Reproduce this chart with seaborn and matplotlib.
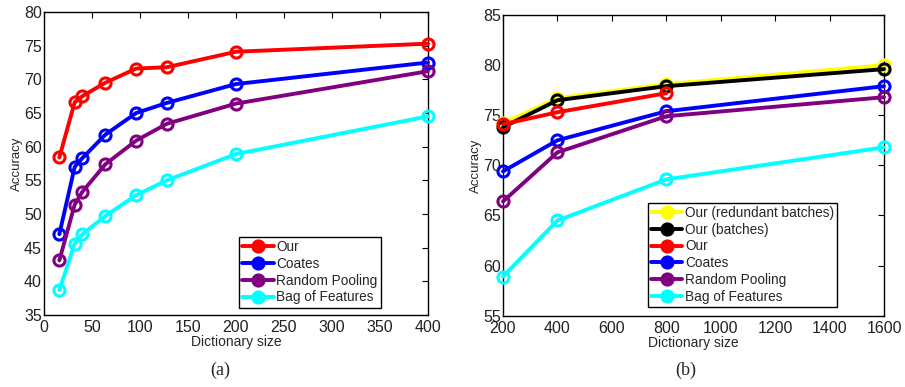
import matplotlib
matplotlib.use("Agg")
import matplotlib.pyplot as plt
import seaborn as sns

# (a) dictionary sizes and accuracies
sizes_a = [16, 32, 40, 64, 96, 128, 200, 400]
our_a = [58.4, 66.6, 67.5, 69.5, 71.6, 71.8, 74.1, 75.3]
coates_a = [47.0, 57.0, 58.3, 61.8, 65.0, 66.5, 69.3, 72.5]
random_a = [43.1, 51.4, 53.3, 57.4, 60.9, 63.4, 66.4, 71.2]
bof_a = [38.7, 45.6, 47.0, 49.7, 52.8, 55.0, 58.9, 64.5]

# (b)
sizes_b = [200, 400, 800, 1600]
our_red_b = [74.2, 76.7, 78.1, 80.0]
our_batch_b = [73.8, 76.5, 77.9, 79.6]
our_b = [74.1, 75.3, 77.2]
coates_b = [69.4, 72.5, 75.4, 77.9]
random_b = [66.4, 71.3, 74.9, 76.8]
bof_b = [58.9, 64.5, 68.6, 71.8]

PURPLE = (0.5, 0.0, 0.5)

sns.set_style("white")
plt.rcParams['font.family'] = ['Liberation Sans', 'DejaVu Sans']

fig = plt.figure(figsize=(9.05, 3.87), dpi=100)
ax1 = fig.add_axes([0.0486, 0.186, 0.4243, 0.783])
ax2 = fig.add_axes([0.5558, 0.1842, 0.421, 0.777])


def draw(ax, x, y, color, label):
    sns.lineplot(x=x[:len(y)], y=y, ax=ax, color=color, label=label, sort=False,
                 marker='o', markersize=8, markerfacecolor='none',
                 markeredgecolor=color, markeredgewidth=2.2, linewidth=2.8,
                 clip_on=False, zorder=3)


draw(ax1, sizes_a, our_a, 'red', 'Our')
draw(ax1, sizes_a, coates_a, 'blue', 'Coates')
draw(ax1, sizes_a, random_a, PURPLE, 'Random Pooling')
draw(ax1, sizes_a, bof_a, 'cyan', 'Bag of Features')

draw(ax2, sizes_b, our_red_b, 'yellow', 'Our (redundant batches)')
draw(ax2, sizes_b, our_batch_b, 'black', 'Our (batches)')
draw(ax2, sizes_b, our_b, 'red', 'Our')
draw(ax2, sizes_b, coates_b, 'blue', 'Coates')
draw(ax2, sizes_b, random_b, PURPLE, 'Random Pooling')
draw(ax2, sizes_b, bof_b, 'cyan', 'Bag of Features')

ax1.set_xlim(0, 400)
ax1.set_ylim(35, 80)
ax1.set_xticks(range(0, 401, 50))
ax1.set_yticks(range(35, 81, 5))
ax2.set_xlim(200, 1600)
ax2.set_ylim(55, 85)
ax2.set_xticks(range(200, 1601, 200))
ax2.set_yticks(range(55, 86, 5))

for ax in (ax1, ax2):
    ax.set_xlabel('Dictionary size', fontsize=10, labelpad=0)
    ax.set_ylabel('Accuracy', fontsize=9.5, labelpad=1)
    ax.tick_params(direction='in', length=4, width=0.8, top=True, right=True,
                   labelsize=11.5, colors='black')
    ax.tick_params(axis='x', pad=3.5)
    ax.tick_params(axis='y', pad=1.5)
    for s in ax.spines.values():
        s.set_color('black')
        s.set_linewidth(1.0)
        s.set_zorder(2)
    for t in ax.get_xticklabels() + ax.get_yticklabels():
        t.set_color('#222222')

leg_kw = dict(loc='lower right', fontsize=9.8, frameon=True, fancybox=False,
              edgecolor='black', framealpha=1, handlelength=2.3,
              handletextpad=0.2, borderpad=0.25, labelspacing=0.2,
              borderaxespad=0.2)
leg1 = ax1.legend(bbox_to_anchor=(0.885, 0.015), **leg_kw)
leg2 = ax2.legend(bbox_to_anchor=(0.885, 0.02), **leg_kw)
for leg in (leg1, leg2):
    leg.get_frame().set_linewidth(1.0)
    leg.set_zorder(5)
    for h in leg.get_lines():
        h.set_markerfacecolor(h.get_color())

fig.text(0.243, 0.03, '(a)', fontsize=13, family='Liberation Serif', ha='center')
fig.text(0.758, 0.03, '(b)', fontsize=13, family='Liberation Serif', ha='center')

fig.savefig('out.png', dpi=100)
